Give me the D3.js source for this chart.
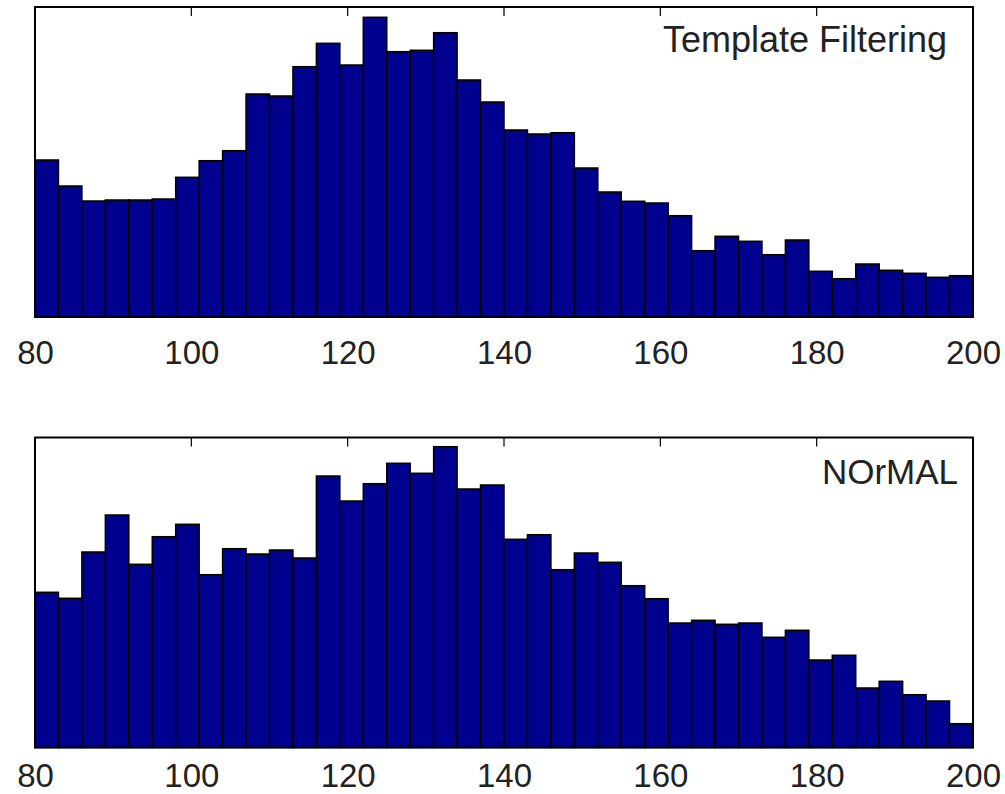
<!DOCTYPE html>
<html>
<head>
<meta charset="utf-8">
<script src="https://cdn.jsdelivr.net/npm/d3@7/dist/d3.min.js"></script>
<style>
  html, body { margin: 0; padding: 0; background: #ffffff; }
  svg { display: block; }
  text { font-family: "Liberation Sans", Arial, Helvetica, sans-serif; fill: #222222; }
</style>
</head>
<body>
<svg id="chart" width="1005" height="794"></svg>
<script>
// Histogram bin edges (width 3, from 80 to 200)
const binEdges = [80, 83, 86, 89, 92, 95, 98, 101, 104, 107, 110, 113, 116, 119, 122, 125, 128, 131, 134, 137,
                  140, 143, 146, 149, 152, 155, 158, 161, 164, 167, 170, 173, 176, 179, 182, 185, 188, 191, 194, 197, 200];

// Bin counts, template filtering
const templateCounts = [157, 131, 116, 117, 117, 118, 139.7, 156.3, 166.3, 223, 221, 250.3, 273.7, 252, 299.7, 265.3,
                        266.7, 284.3, 237, 215, 187, 183, 184.3, 149, 125, 115.7, 114, 101.3, 66.3, 80.7, 75.7, 62.3,
                        77, 45.7, 38.3, 53, 46.7, 43.7, 39.7, 41.3];

// Bin counts, normal
const normalCounts = [155.2, 149.2, 195.5, 232.5, 183.2, 210.8, 223.2, 172.8, 198.8, 193.5, 197.5, 189.5, 271.5, 246.5,
                      263.8, 284.2, 274.2, 300.8, 258.5, 262.5, 208.2, 212.8, 177.8, 194.5, 185.2, 161.8, 148.8, 124.5,
                      127.2, 123.2, 124.5, 110.2, 117.2, 87.5, 92.2, 59.5, 66.2, 52.8, 46.5, 23.8];

// Axis ticks
const xTicks = [80, 100, 120, 140, 160, 180, 200];

const panelLabels = ["Template Filtering", "NOrMAL"];

const svg = d3.select("#chart");

const left = 35, right = 973;
const panels = [
  { counts: templateCounts, label: panelLabels[0], labelSize: 36, top: 7,     bottom: 317,   labelRight: 947, labelBase: 45, tickBase: 47 },
  { counts: normalCounts,   label: panelLabels[1], labelSize: 35, top: 437.5, bottom: 747.5, labelRight: 958, labelBase: 46, tickBase: 39.5 }
];

const x = d3.scaleLinear().domain([80, 200]).range([left, right]);

panels.forEach(p => {
  const y = d3.scaleLinear().domain([0, 310]).range([p.bottom, p.top]);
  const g = svg.append("g");

  const bins = p.counts.map((c, i) => ({ x0: binEdges[i], x1: binEdges[i + 1], n: c }));

  // Bars
  g.selectAll("rect.bar")
    .data(bins)
    .join("rect")
    .attr("class", "bar")
    .attr("x", d => x(d.x0))
    .attr("y", d => y(d.n))
    .attr("width", d => x(d.x1) - x(d.x0))
    .attr("height", d => y(0) - y(d.n))
    .attr("fill", "#00008f")
    .attr("stroke", "#000000")
    .attr("stroke-width", 1.5);

  // Axis box
  g.append("rect")
    .attr("x", left)
    .attr("y", p.top)
    .attr("width", right - left)
    .attr("height", p.bottom - p.top)
    .attr("fill", "none")
    .attr("stroke", "#000000")
    .attr("stroke-width", 2);

  // Inward ticks along the top edge
  g.selectAll("line.tick")
    .data(xTicks)
    .join("line")
    .attr("class", "tick")
    .attr("x1", d => x(d))
    .attr("x2", d => x(d))
    .attr("y1", p.top)
    .attr("y2", p.top + 9)
    .attr("stroke", "#000000")
    .attr("stroke-width", 1.2);

  // Tick labels below the axis
  const axis = d3.axisBottom(x).tickValues(xTicks).tickSize(0).tickPadding(0).tickFormat(d3.format("d"));
  const ag = g.append("g")
    .attr("transform", `translate(0,${p.bottom})`)
    .call(axis);
  ag.select(".domain").remove();
  ag.selectAll("text")
    .attr("y", p.tickBase)
    .attr("dy", 0)
    .style("font-size", "33px")
    .style("font-family", "\"Liberation Sans\", Arial, sans-serif")
    .attr("fill", "#222222");

  // Panel label
  g.append("text")
    .attr("x", p.labelRight)
    .attr("y", p.top + p.labelBase)
    .attr("text-anchor", "end")
    .style("font-size", p.labelSize + "px")
    .text(p.label);
});
</script>
</body>
</html>
